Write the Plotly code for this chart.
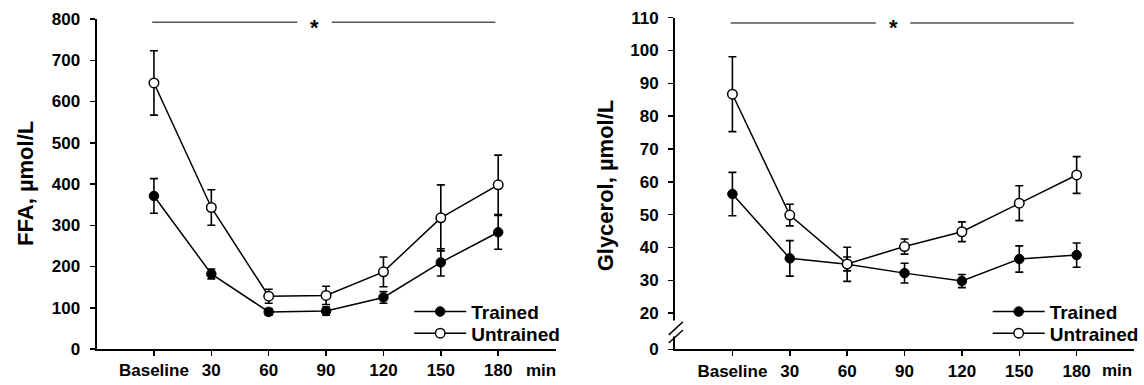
import plotly.graph_objects as go

categories = ["Baseline", "30", "60", "90", "120", "150", "180"]

ffa_trained = [371, 182, 90, 92, 125, 210, 283]
ffa_trained_err = [42, 12, 8, 10, 14, 33, 41]
ffa_untrained = [645, 343, 128, 130, 187, 318, 398]
ffa_untrained_err = [78, 43, 17, 22, 36, 80, 72]

gly_trained = [56.3, 36.7, 34.9, 32.2, 29.8, 36.5, 37.7]
gly_trained_err = [6.6, 5.4, 5.2, 3.0, 2.0, 4.0, 3.7]
gly_untrained = [86.7, 49.9, 35.0, 40.3, 44.8, 53.5, 62.1]
gly_untrained_err = [11.4, 3.3, 2.1, 2.3, 3.0, 5.3, 5.6]

xs = list(range(len(categories)))

FONT = "Arial, Liberation Sans, sans-serif"
W, H = 1144, 385

fig = go.Figure()


def add_pair(tr, tr_err, un, un_err, xaxis, yaxis, leg_tr, leg_un):
    fig.add_trace(go.Scatter(
        x=xs, y=tr, name="Trained", mode="lines+markers",
        xaxis=xaxis, yaxis=yaxis, legend=leg_tr,
        line=dict(color="black", width=1.5),
        marker=dict(symbol="circle", size=9.5, color="black", line=dict(color="black", width=1)),
        error_y=dict(type="data", array=tr_err, visible=True, color="black", thickness=1.6, width=4),
    ))
    fig.add_trace(go.Scatter(
        x=xs, y=un, name="Untrained", mode="lines+markers",
        xaxis=xaxis, yaxis=yaxis, legend=leg_un,
        line=dict(color="black", width=1.5),
        marker=dict(symbol="circle", size=9.5, color="white", line=dict(color="black", width=1.5)),
        error_y=dict(type="data", array=un_err, visible=True, color="black", thickness=1.6, width=4),
    ))


add_pair(ffa_trained, ffa_trained_err, ffa_untrained, ffa_untrained_err, "x", "y", "legend", "legend2")
add_pair(gly_trained, gly_trained_err, gly_untrained, gly_untrained_err, "x2", "y2", "legend3", "legend4")

tickfont = dict(family=FONT, size=17, color="black", weight="bold")
xcommon = dict(range=[-1, 7], tickvals=xs, ticktext=categories, showline=True, linecolor="black",
               linewidth=2, ticks="outside", ticklen=5, tickwidth=1.5, tickcolor="black",
               showgrid=False, zeroline=False, tickfont=tickfont, automargin=False, fixedrange=True)
ycommon = dict(showline=True, linecolor="black", linewidth=2, ticks="outside", ticklen=5,
               tickwidth=1.5, tickcolor="black", showgrid=False, zeroline=False,
               tickfont=tickfont, automargin=False, ticklabelstandoff=6, fixedrange=True)


def leg(px_x, px_y):
    return dict(x=px_x / W, y=1 - px_y / H, xanchor="left", yanchor="middle",
                font=dict(family=FONT, size=19, color="black", weight="bold"),
                bgcolor="rgba(0,0,0,0)", itemwidth=52, borderwidth=0)


fig.update_layout(
    width=W, height=H,
    margin=dict(l=0, r=0, t=0, b=0),
    paper_bgcolor="white", plot_bgcolor="white",
    showlegend=True,
    xaxis=dict(domain=[97 / W, 558 / W], anchor="y", **xcommon),
    yaxis=dict(domain=[1 - 349 / H, 1 - 19 / H], anchor="x", range=[0, 800],
               tickvals=list(range(0, 801, 100)), **ycommon),
    xaxis2=dict(domain=[678 / W, 1139 / W], anchor="y2", **xcommon),
    yaxis2=dict(domain=[1 - 349.3 / H, 1 - 17.7 / H], anchor="x2", range=[9, 110],
                tickvals=[9] + list(range(20, 111, 10)),
                ticktext=["0"] + [str(v) for v in range(20, 111, 10)], **ycommon),
    legend=leg(411, 311.7),
    legend2=leg(411, 333.3),
    legend3=leg(992, 311.7),
    legend4=leg(992, 333.3),
)

# y-axis titles
fig.add_annotation(text="FFA, µmol/L", xref="paper", yref="paper", x=25 / W, y=1 - 183 / H,
                   textangle=-90, showarrow=False, xanchor="center", yanchor="middle",
                   font=dict(family=FONT, size=22, color="black", weight="bold"))
fig.add_annotation(text="Glycerol, µmol/L", xref="paper", yref="paper", x=608 / W, y=1 - 185 / H,
                   textangle=-90, showarrow=False, xanchor="center", yanchor="middle",
                   font=dict(family=FONT, size=22, color="black", weight="bold"))

# "min" unit labels
for xr, xv in (("x", 6.45), ("x2", 6.4)):
    fig.add_annotation(text="min", xref=xr, yref="paper", x=xv, y=1 - 370 / H, showarrow=False,
                       xanchor="left", yanchor="middle",
                       font=dict(family=FONT, size=17, color="black", weight="bold"))

# significance bars
sig_color = "#555555"
for xr, yr, yv in (("x", "y", 792), ("x2", "y2", 108.4)):
    fig.add_shape(type="line", xref=xr, yref=yr, x0=-0.03, x1=2.5, y0=yv, y1=yv,
                  line=dict(color=sig_color, width=1.5))
    fig.add_shape(type="line", xref=xr, yref=yr, x0=3.1, x1=5.95, y0=yv, y1=yv,
                  line=dict(color=sig_color, width=1.5))
    fig.add_annotation(text="*", xref=xr, yref=yr, x=2.8, y=yv, showarrow=False, yshift=-5,
                       font=dict(family=FONT, size=22, color="black", weight="bold"))

# axis break on glycerol y-axis
fig.add_shape(type="rect", xref="paper", yref="y2", x0=675 / W, x1=682 / W, y0=12.9, y1=17.75,
              line=dict(width=0), fillcolor="white", layer="above")
for (ya, yb) in ((13.4, 17.4), (10.9, 14.9)):
    fig.add_shape(type="line", xref="paper", yref="y2", x0=671.7 / W, x1=686 / W, y0=ya, y1=yb,
                  line=dict(color="black", width=1.5))

fig.write_html("out.html", config={"displayModeBar": False, "staticPlot": True},
               post_script="document.body.style.margin='0';")
